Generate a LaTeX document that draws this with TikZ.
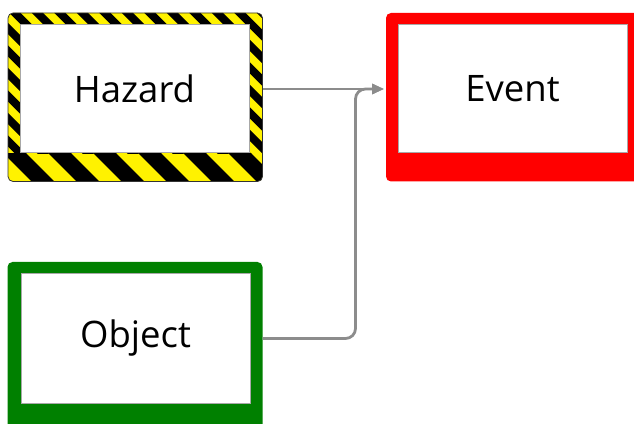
\documentclass[tikz,border=0pt]{standalone}
\usepackage{fontspec}
\setmainfont{Open Sans}
\usetikzlibrary{arrows.meta,calc,backgrounds}
\definecolor{conngray}{HTML}{8C8C8C}
\definecolor{edgegray}{HTML}{A8A8A8}
\definecolor{okgreen}{HTML}{008000}
\begin{document}
\begin{tikzpicture} [
   x=1pt, y=1pt,
   box/.style={minimum width=229pt, minimum height=128pt, inner sep=0pt,
      draw=edgegray, line width=1pt, fill=white, font=\fontsize{36.5}{40}\selectfont},
   conn/.style={draw=conngray, line width=2.8pt, shorten >=2pt,
      -{Triangle[length=12pt,width=10pt]}},
   outer/.style={rounded corners=5pt}
]
   \clip (0,0) rectangle (634,423);
   % the three boxes (white insides)
   \node (hazard) [box] at (134.5,334) {Hazard};
   \node (event) [box] at (512.5,334) {Event};
   \node (object) [box, minimum height=129pt] at (135.5,84.5) {Object};

   \begin{scope}[on background layer]
      % hazard: yellow and black stripes
      \begin{scope}
         \clip[outer] ($(hazard.north west)+(-11.5,11.5)$) rectangle ($(hazard.south east)+(13,-28)$);
         \fill[yellow] ($(hazard.north west)+(-12,12)$) rectangle ($(hazard.south east)+(14,-29)$);
         % narrow stripes on top and sides
         \begin{scope}
            \clip ($(hazard.south west)+(-20,0)$) rectangle ($(hazard.north east)+(20,20)$);
            \foreach \k in {-16,...,16}
               \draw[black, line width=8pt] (37.5+22.5*\k-220,630) -- (37.5+22.5*\k+220,190);
         \end{scope}
         % wide stripes at the bottom
         \begin{scope}
            \clip ($(hazard.south west)+(-20,0)$) rectangle ($(hazard.south east)+(20,-40)$);
            \foreach \k in {-3,...,6}
               \draw[black, line width=16pt] (61.5+45*\k-60,328) -- (61.5+45*\k+60,208);
         \end{scope}
      \end{scope}
      \draw[black!80, line width=0.8pt, outer]
         ($(hazard.north west)+(-11.5,11.5)$) rectangle ($(hazard.south east)+(13,-28)$);
      % event: red frame
      \fill[red, outer]
         ($(event.north west)+(-11.5,11.5)$) rectangle ($(event.south east)+(13,-28)$);
      % object: green frame
      \fill[okgreen, outer]
         ($(object.north west)+(-13,11.5)$) rectangle ($(object.south east)+(12,-28)$);
   \end{scope}

   % connectors
   \draw[conn] ([xshift=13pt]hazard.east) -- ([xshift=-11.5pt]event.west);
   \draw[conn, rounded corners=10pt] ([xshift=12pt]object.east)
      -| ([xshift=-42pt]event.west) -- ([xshift=-11.5pt]event.west);
\end{tikzpicture}
\end{document}
